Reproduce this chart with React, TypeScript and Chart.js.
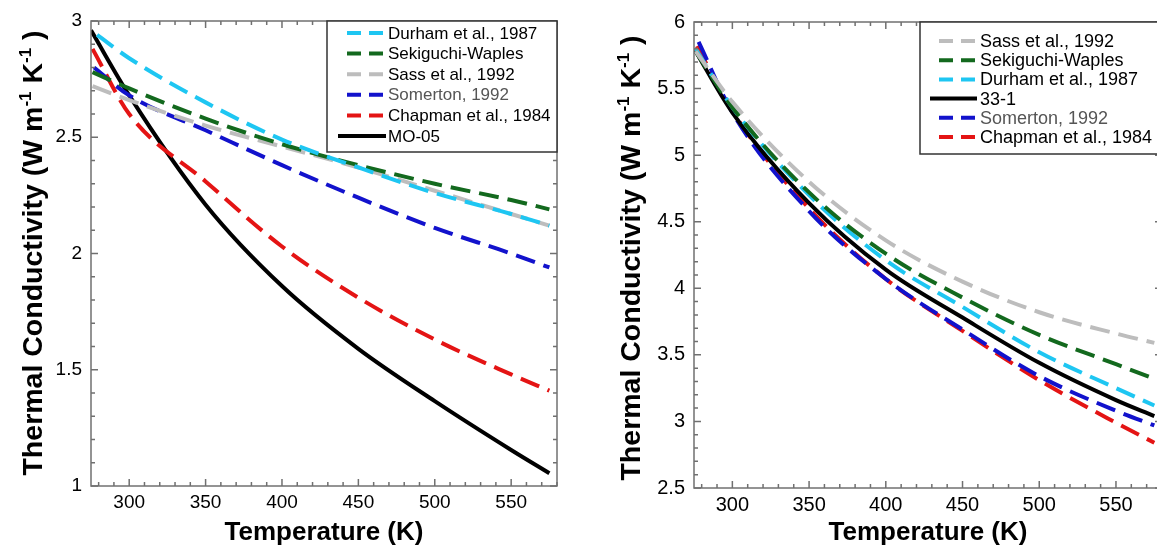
import React, { useEffect, useRef } from "react";
import { Chart, registerables } from "chart.js";
Chart.register(...registerables);

const FONT = '"Liberation Sans", Arial, Helvetica, sans-serif';

// ---------- Left panel data (MO-05) ----------
const durhamLT = [279, 300, 350, 400, 450, 500, 550, 575];
const durhamLK = [2.94, 2.84, 2.65, 2.49, 2.37, 2.26, 2.17, 2.12];
const sekiLT = [276, 300, 350, 400, 450, 500, 550, 575];
const sekiLK = [2.78, 2.71, 2.58, 2.47, 2.38, 2.30, 2.23, 2.19];
const sassLT = [276, 300, 350, 400, 450, 500, 550, 575];
const sassLK = [2.72, 2.66, 2.55, 2.46, 2.37, 2.27, 2.17, 2.12];
const somLT = [277, 300, 350, 400, 450, 500, 550, 575];
const somLK = [2.80, 2.68, 2.53, 2.38, 2.24, 2.11, 2.0, 1.94];
const chapLT = [276, 300, 350, 400, 450, 500, 550, 575];
const chapLK = [2.88, 2.6, 2.31, 2.03, 1.81, 1.63, 1.48, 1.41];
const moLT = [275, 300, 350, 400, 450, 500, 550, 575];
const moLK = [2.96, 2.68, 2.21, 1.86, 1.59, 1.365, 1.155, 1.055];

// ---------- Right panel data (33-1) ----------
const sassRT = [276, 300, 350, 400, 450, 500, 550, 575];
const sassRK = [5.78, 5.4, 4.8, 4.36, 4.05, 3.82, 3.66, 3.59];
const sekiRT = [276, 300, 350, 400, 450, 500, 550, 575];
const sekiRK = [5.78, 5.36, 4.72, 4.26, 3.93, 3.65, 3.43, 3.32];
const durhamRT = [276, 300, 350, 400, 450, 500, 550, 575];
const durhamRK = [5.8, 5.36, 4.7, 4.21, 3.86, 3.52, 3.25, 3.12];
const oneRT = [275, 300, 350, 400, 450, 500, 550, 575];
const oneRK = [5.8, 5.32, 4.64, 4.14, 3.78, 3.44, 3.16, 3.04];
const somRT = [278, 300, 350, 400, 450, 500, 550, 575];
const somRK = [5.85, 5.32, 4.58, 4.07, 3.69, 3.34, 3.08, 2.97];
const chapRT = [277, 300, 350, 400, 450, 500, 550, 575];
const chapRK = [5.82, 5.33, 4.6, 4.07, 3.68, 3.31, 2.99, 2.84];

// ---------- Axis ticks ----------
const xTicks = [300, 350, 400, 450, 500, 550];
const yTicksL = [1, 1.5, 2, 2.5, 3];
const yTicksR = [2.5, 3, 3.5, 4, 4.5, 5, 5.5, 6];

const C_CYAN = "#1ec6f2";
const C_GREEN = "#13691e";
const C_GRAY = "#bdbdbd";
const C_BLUE = "#1212cc";
const C_RED = "#e41414";
const C_BLACK = "#000000";

type Series = { label: string; t: number[]; k: number[]; color: string; dashed: boolean; textColor?: string };

const leftSeries: Series[] = [
  { label: "Durham et al., 1987", t: durhamLT, k: durhamLK, color: C_CYAN, dashed: true },
  { label: "Sekiguchi-Waples", t: sekiLT, k: sekiLK, color: C_GREEN, dashed: true },
  { label: "Sass et al., 1992", t: sassLT, k: sassLK, color: C_GRAY, dashed: true },
  { label: "Somerton, 1992", t: somLT, k: somLK, color: C_BLUE, dashed: true, textColor: "#555555" },
  { label: "Chapman et al., 1984", t: chapLT, k: chapLK, color: C_RED, dashed: true },
  { label: "MO-05", t: moLT, k: moLK, color: C_BLACK, dashed: false },
];

const rightSeries: Series[] = [
  { label: "Sass et al., 1992", t: sassRT, k: sassRK, color: C_GRAY, dashed: true },
  { label: "Sekiguchi-Waples", t: sekiRT, k: sekiRK, color: C_GREEN, dashed: true },
  { label: "Durham et al., 1987", t: durhamRT, k: durhamRK, color: C_CYAN, dashed: true },
  { label: "33-1", t: oneRT, k: oneRK, color: C_BLACK, dashed: false },
  { label: "Somerton, 1992", t: somRT, k: somRK, color: C_BLUE, dashed: true, textColor: "#555555" },
  { label: "Chapman et al., 1984", t: chapRT, k: chapRK, color: C_RED, dashed: true },
];

const FRAME = "#707070";

const framePlugin = {
  id: "frameDeco",
  afterDatasetsDraw(chart: any, _args: any, opts: any) {
    const ctx: CanvasRenderingContext2D = chart.ctx;
    const { left, right, top, bottom } = chart.chartArea;
    const xs = chart.scales.x;
    const ys = chart.scales.y;
    ctx.save();
    ctx.strokeStyle = FRAME;
    ctx.lineWidth = 1.5;
    ctx.strokeRect(left, top, right - left, bottom - top);
    ctx.beginPath();
    for (let v = Math.ceil(xs.min / 10) * 10; v <= xs.max; v += 10) {
      const px = xs.getPixelForValue(v);
      const len = v % 50 === 0 ? 7 : 4;
      ctx.moveTo(px, bottom);
      ctx.lineTo(px, bottom - len);
      ctx.moveTo(px, top);
      ctx.lineTo(px, top + len);
    }
    const n = Math.round((ys.max - ys.min) / 0.1);
    for (let i = 0; i <= n; i++) {
      const v = ys.min + i * 0.1;
      const py = ys.getPixelForValue(v);
      const len = i % 5 === 0 ? 7 : 4;
      ctx.moveTo(left, py);
      ctx.lineTo(left + len, py);
      ctx.moveTo(right, py);
      ctx.lineTo(right - len, py);
    }
    ctx.stroke();

    // legend
    const lg = opts.legend;
    ctx.fillStyle = "#ffffff";
    ctx.fillRect(lg.x, lg.y, lg.w, lg.h);
    ctx.strokeStyle = "#333333";
    ctx.lineWidth = 1.5;
    ctx.strokeRect(lg.x, lg.y, lg.w, lg.h);
    ctx.font = `${lg.fs}px ${FONT}`;
    ctx.textBaseline = "middle";
    ctx.textAlign = "left";
    opts.series.forEach((s: Series, i: number) => {
      const y = lg.row0 + i * lg.step;
      ctx.beginPath();
      ctx.strokeStyle = s.color;
      ctx.lineWidth = 4;
      if (s.dashed) {
        ctx.setLineDash([14, 8]);
        ctx.moveTo(lg.dx0, y);
        ctx.lineTo(lg.dx1, y);
      } else {
        ctx.setLineDash([]);
        ctx.moveTo(lg.sx0, y);
        ctx.lineTo(lg.sx1, y);
      }
      ctx.stroke();
      ctx.setLineDash([]);
      ctx.fillStyle = s.textColor || "#000000";
      ctx.fillText(s.label, lg.tx, y + 1);
    });

    // axis titles
    ctx.fillStyle = "#000000";
    ctx.font = `bold ${opts.xTitleSize}px ${FONT}`;
    ctx.textAlign = "center";
    ctx.textBaseline = "alphabetic";
    ctx.fillText("Temperature (K)", (left + right) / 2, opts.xTitleY);

    const segs = [
      { t: "Thermal Conductivity (W m", sup: false },
      { t: "-1", sup: true },
      { t: " K", sup: false },
      { t: "-1", sup: true },
      { t: " )", sup: false },
    ];
    const mainFont = `bold ${opts.yTitleSize}px ${FONT}`;
    const supFont = `bold ${opts.supSize}px ${FONT}`;
    let total = 0;
    const widths = segs.map((s) => {
      ctx.font = s.sup ? supFont : mainFont;
      const w = ctx.measureText(s.t).width;
      total += w;
      return w;
    });
    ctx.save();
    ctx.translate(opts.yTitleX, opts.yTitleY);
    ctx.rotate(-Math.PI / 2);
    ctx.textAlign = "left";
    let x = -total / 2;
    segs.forEach((s, i) => {
      ctx.font = s.sup ? supFont : mainFont;
      ctx.fillText(s.t, x, s.sup ? -opts.supRaise : 0);
      x += widths[i];
    });
    ctx.restore();
    ctx.restore();
  },
};

function makeConfig(series: Series[], o: any) {
  return {
    type: "line" as const,
    data: {
      datasets: series.map((s) => ({
        label: s.label,
        data: s.t.map((t, i) => ({ x: t, y: s.k[i] })),
        borderColor: s.color,
        borderWidth: 4,
        borderDash: s.dashed ? [20, 9] : [],
        pointRadius: 0,
        fill: false,
        cubicInterpolationMode: "monotone" as const,
      })),
    },
    options: {
      animation: false as const,
      responsive: false,
      maintainAspectRatio: false,
      layout: { padding: { left: 0, top: o.top, right: o.right, bottom: 0 } },
      plugins: {
        legend: { display: false },
        tooltip: { enabled: false },
        frameDeco: {
          series,
          legend: o.legend,
          xTitleY: o.xTitleY,
          xTitleSize: o.xTitleSize,
          yTitleX: o.yTitleX,
          yTitleY: o.yTitleY,
          yTitleSize: o.yTitleSize,
          supSize: o.supSize,
          supRaise: o.supRaise,
        },
      },
      scales: {
        x: {
          type: "linear" as const,
          min: 275,
          max: 580,
          grid: { display: false, drawTicks: false },
          border: { display: false },
          afterBuildTicks: (sc: any) => {
            sc.ticks = xTicks.map((v) => ({ value: v }));
          },
          afterFit: (sc: any) => {
            sc.height = o.xHeight;
          },
          ticks: {
            font: { family: FONT, size: o.tickSize },
            color: "#000",
            padding: 5,
            maxRotation: 0,
            autoSkip: false,
            callback: (v: any) => String(v),
          },
        },
        y: {
          type: "linear" as const,
          min: o.ymin,
          max: o.ymax,
          grid: { display: false, drawTicks: false },
          border: { display: false },
          afterBuildTicks: (sc: any) => {
            sc.ticks = o.yTicks.map((v: number) => ({ value: v }));
          },
          afterFit: (sc: any) => {
            sc.width = o.yWidth;
          },
          ticks: {
            font: { family: FONT, size: o.tickSize },
            color: "#000",
            padding: 9,
            autoSkip: false,
            callback: (v: any) => String(v),
          },
        },
      },
    },
    plugins: [framePlugin],
  };
}

function ChartCanvas(props: { series: Series[]; o: any; left: number; width: number }) {
  const ref = useRef<HTMLCanvasElement | null>(null);
  useEffect(() => {
    if (!ref.current) return;
    const chart = new Chart(ref.current, makeConfig(props.series, props.o) as any);
    return () => chart.destroy();
  }, []);
  return (
    <canvas
      ref={ref}
      width={props.width}
      height={546}
      style={{ position: "absolute", left: props.left, top: 0, width: props.width, height: 546 }}
    />
  );
}

const leftOpts = {
  top: 21,
  right: 33,
  xHeight: 60,
  yWidth: 91,
  ymin: 1,
  ymax: 3,
  yTicks: yTicksL,
  tickSize: 19,
  xTitleY: 540,
  xTitleSize: 26,
  yTitleX: 42,
  yTitleY: 253,
  yTitleSize: 28.5,
  supSize: 17,
  supRaise: 11,
  legend: { x: 327, y: 21, w: 230, h: 131, fs: 17, row0: 33, step: 20.6, dx0: 347, dx1: 383, sx0: 338, sx1: 386, tx: 388 },
};

const rightOpts = {
  top: 22,
  right: 38,
  xHeight: 58,
  yWidth: 94,
  ymin: 2.5,
  ymax: 6,
  yTicks: yTicksR,
  tickSize: 20,
  xTitleY: 540,
  xTitleSize: 26,
  yTitleX: 40,
  yTitleY: 258,
  yTitleSize: 28.5,
  supSize: 17,
  supRaise: 11,
  legend: { x: 320, y: 22, w: 260, h: 132, fs: 18, row0: 41, step: 19.2, dx0: 339, dx1: 375, sx0: 330, sx1: 377, tx: 380 },
};

export default function App() {
  return (
    <div
      style={{
        position: "fixed",
        left: 0,
        top: 0,
        width: 1157,
        height: 546,
        overflow: "hidden",
        background: "#ffffff",
      }}
    >
      <ChartCanvas series={leftSeries} o={leftOpts} left={0} width={590} />
      <ChartCanvas series={rightSeries} o={rightOpts} left={600} width={600} />
    </div>
  );
}
